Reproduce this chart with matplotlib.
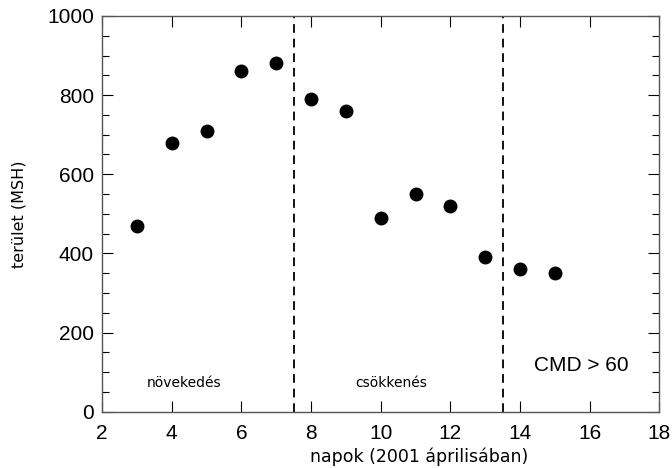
import matplotlib
matplotlib.use("Agg")
import matplotlib.pyplot as plt
from matplotlib.ticker import MultipleLocator

# napok es terulet (MSH)
days = [3, 4, 5, 6, 7, 8, 9, 10, 11, 12, 13, 14, 15]
area = [470, 680, 710, 860, 880, 790, 760, 490, 550, 520, 390, 360, 350]

# fazisok hatarai
phase_bounds = [7.5, 13.5]
phase_labels = ["növekedés", "csökkenés"]
phase_label_x = [4.35, 10.3]

fig = plt.figure(figsize=(6.72, 4.68), dpi=100)
ax = fig.add_axes([0.152, 0.12, 0.829, 0.846])

ax.plot(days, area, "o", color="black", ms=9)

for xb in phase_bounds:
    ax.axvline(xb, color="#111111", ls=(0, (4.5, 3)), lw=1.4)

for lab, xl in zip(phase_labels, phase_label_x):
    ax.text(xl, 73, lab, ha="center", va="center", fontsize=10,
            family="DejaVu Sans")
ax.text(15.76, 116, "CMD > 60", ha="center", va="center", fontsize=15,
        family="Liberation Sans")

ax.set_xlim(2, 18)
ax.set_ylim(0, 1000)
ax.xaxis.set_major_locator(MultipleLocator(2))
ax.yaxis.set_major_locator(MultipleLocator(200))
ax.yaxis.set_minor_locator(MultipleLocator(50))
ax.tick_params(which="both", direction="in", top=True, right=True,
               color="black", width=0.8)
ax.tick_params(which="major", length=8)
ax.tick_params(which="minor", length=5)
ax.tick_params(axis="y", pad=6)
ax.tick_params(axis="x", pad=9)
for lab in ax.get_xticklabels() + ax.get_yticklabels():
    lab.set_fontfamily("Liberation Sans")
    lab.set_fontsize(15)
for sp in ax.spines.values():
    sp.set_color("#555555")
    sp.set_linewidth(1.0)

ax.set_xlabel("napok (2001 áprilisában)", fontsize=12.5, labelpad=1)
ax.xaxis.set_label_coords(0.569, -0.09)
ax.set_ylabel("terület (MSH)", fontsize=11.5, labelpad=15)

fig.savefig("out.png", dpi=100)
